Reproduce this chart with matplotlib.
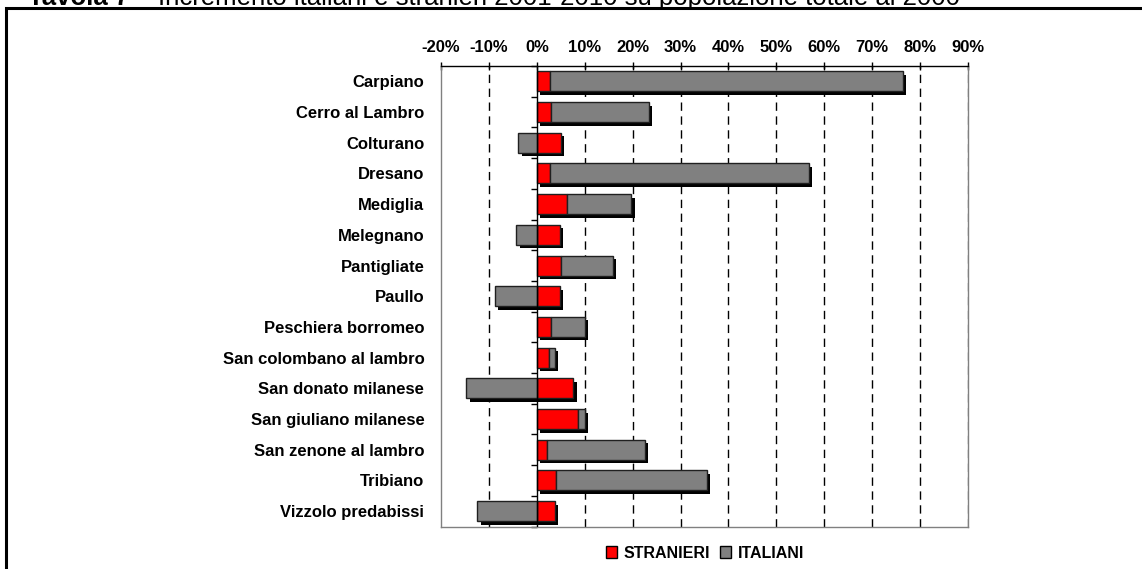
import matplotlib
matplotlib.use("Agg")
import matplotlib.pyplot as plt
import matplotlib.transforms as mtransforms
from matplotlib.patches import Patch, Rectangle
import numpy as np

plt.rcParams['font.family'] = ['Liberation Sans', 'DejaVu Sans']

comuni = ["Carpiano", "Cerro al Lambro", "Colturano", "Dresano", "Mediglia",
          "Melegnano", "Pantigliate", "Paullo", "Peschiera borromeo",
          "San colombano al lambro", "San donato milanese", "San giuliano milanese",
          "San zenone al lambro", "Tribiano", "Vizzolo predabissi"]
stranieri = [2.7, 3.0, 5.0, 2.7, 6.3, 4.8, 5.0, 4.8, 3.0, 2.5, 7.6, 8.6, 2.2, 4.1, 3.7]
italiani = [73.7, 20.4, -3.9, 54.1, 13.4, -4.3, 10.9, -8.8, 7.0, 1.2, -14.7, 1.4, 20.3, 31.4, -12.4]
xticks = [-20, -10, 0, 10, 20, 30, 40, 50, 60, 70, 80, 90]
xlabels = [f"{v}%" for v in xticks]

W, H = 1142, 569
fig = plt.figure(figsize=(W / 100, H / 100), dpi=100)
ax = fig.add_axes([441 / W, 1 - 526.5 / H, (968 - 441) / W, (526.5 - 66) / H])

y = np.arange(len(comuni))
s = np.array(stranieri)
it = np.array(italiani)
left_it = np.where(it >= 0, s, 0.0)
bh = 0.65

red = "#FF0000"
grey = "#808080"

shadow = ax.transData + mtransforms.ScaledTranslation(3.5 / 100, -3.5 / 100, fig.dpi_scale_trans)
ax.barh(y, s, height=bh, color="black", transform=shadow, zorder=2, linewidth=0)
ax.barh(y, it, left=left_it, height=bh, color="black", transform=shadow, zorder=2, linewidth=0)
ax.barh(y, s, height=bh, color=red, edgecolor="#202020", linewidth=1, zorder=3, label="STRANIERI")
ax.barh(y, it, left=left_it, height=bh, color=grey, edgecolor="#202020", linewidth=1, zorder=3, label="ITALIANI")

ax.set_xlim(-20, 90)
ax.set_ylim(len(comuni) - 0.5, -0.5)
ax.set_xticks(xticks)
ax.set_xticklabels(xlabels, fontsize=12, fontweight="bold")
ax.xaxis.tick_top()
ax.tick_params(axis="x", direction="inout", length=6, width=1, color="black", pad=5)

ax.set_yticks(y)
ax.set_yticklabels(comuni, fontsize=12, fontweight="bold")
ax.tick_params(axis="y", length=0, pad=12)

for xv in xticks[1:-1]:
    if xv != 0:
        ax.axvline(xv, color="black", linewidth=1, linestyle=(0, (6, 4)), zorder=1)
ax.axvline(90, color=grey, linewidth=1, linestyle=(0, (6, 4)), zorder=1)

# category axis at 0
ax.axvline(0, color="black", linewidth=1, zorder=4)
sec = ax.secondary_yaxis(20 / 110)
sec.set_yticks(np.arange(len(comuni) + 1) - 0.5)
sec.set_yticklabels([])
sec.tick_params(axis="y", direction="out", length=4, width=1, color="black")
sec.spines["left"].set_visible(False)

for side in ["left", "right", "bottom"]:
    ax.spines[side].set_color(grey)
    ax.spines[side].set_linewidth(1)
ax.spines["top"].set_color("black")
ax.spines["top"].set_linewidth(1)

# legend
handles = [Patch(facecolor=red, edgecolor="black", linewidth=1),
           Patch(facecolor=grey, edgecolor="black", linewidth=1)]
fig.legend(handles, ["STRANIERI", "ITALIANI"], loc="center",
           bbox_to_anchor=(705 / W, 1 - 553 / H), ncol=2, frameon=False,
           prop={"size": 11.5, "weight": "bold"}, handlelength=0.7, handleheight=0.7,
           handletextpad=0.4, columnspacing=0.6)

# outer frame
fig.patches.append(Rectangle((6 / W, -0.05), 1.2, 1 - 8 / H + 0.05, transform=fig.transFigure,
                             fill=False, edgecolor="black", linewidth=2.2))

# title (cut at the top, as in the reference)
t1 = fig.text(28 / W, 1 - 5 / H, "Tavola 7 \u2013 ", fontsize=18.5, fontweight="bold", va="baseline")
ax.annotate("Incremento italiani e stranieri 2001-2010 su popolazione totale al 2000",
            xy=(1, 0), xycoords=t1, va="bottom", ha="left", fontsize=18.5,
            annotation_clip=False)

fig.savefig("out.png", dpi=100)
